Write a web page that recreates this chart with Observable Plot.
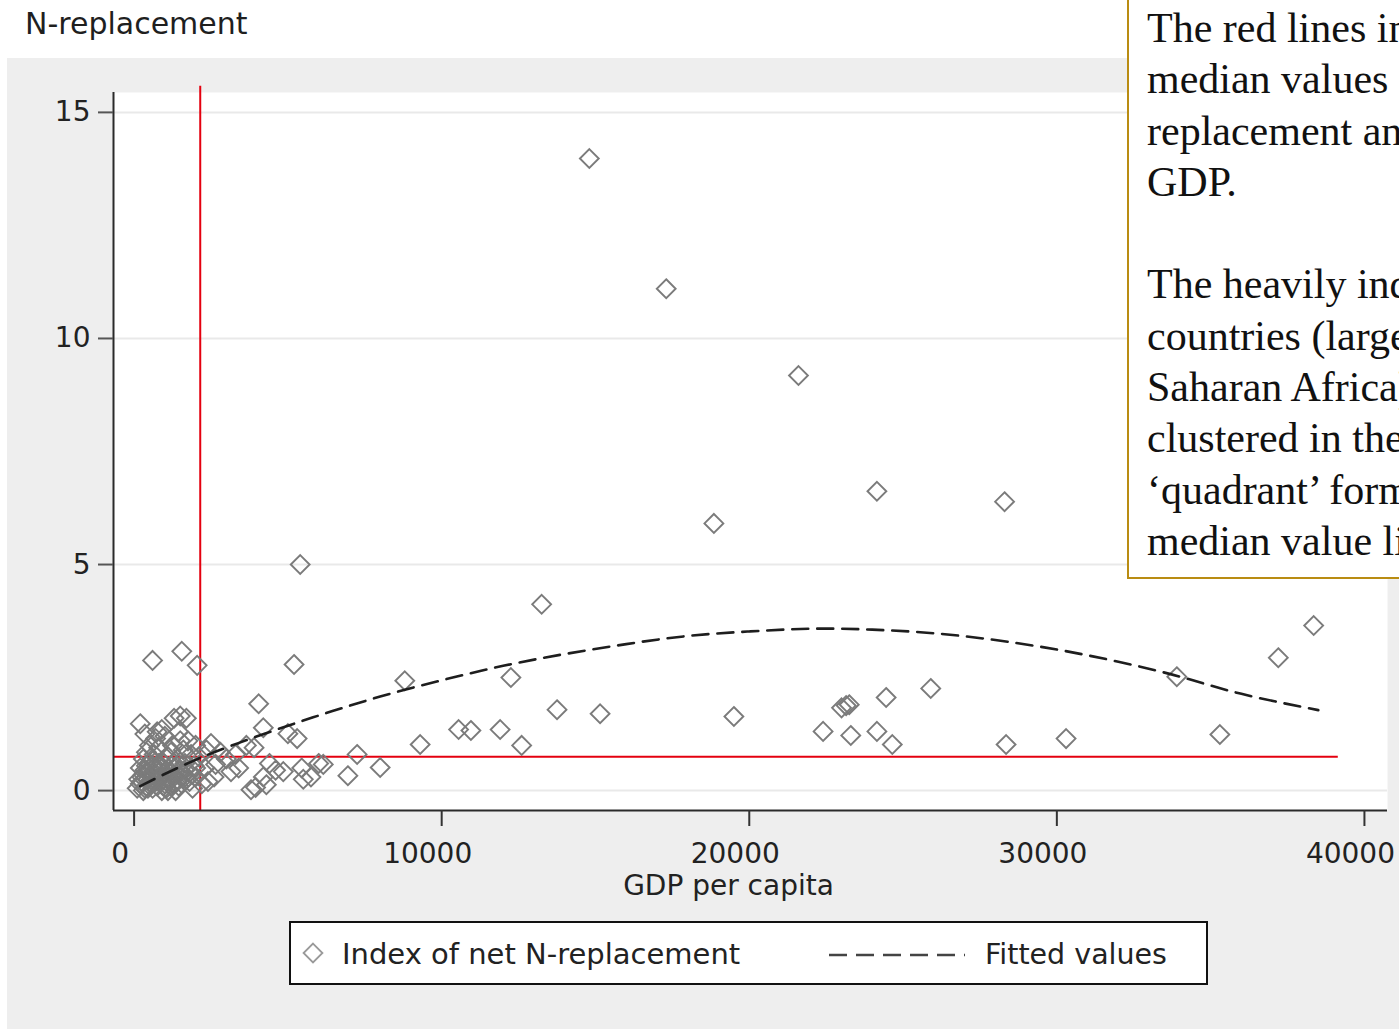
<!DOCTYPE html>
<html>
<head>
<meta charset="utf-8">
<script src="https://cdn.jsdelivr.net/npm/d3@7"></script>
<script src="https://cdn.jsdelivr.net/npm/@observablehq/plot@0.6"></script>
<style>
  html, body { margin: 0; padding: 0; background: #ffffff; }
  #wrap { position: relative; width: 1399px; height: 1029px; overflow: hidden; background: #ffffff; }
  #title { position: absolute; left: 25px; top: 7px; font: 30px "DejaVu Sans", sans-serif; color: #1f1f1f; line-height: 34px; white-space: nowrap; }
  #panel { position: absolute; left: 7px; top: 58px; width: 1392px; height: 971px; background: #eeeeee; }
  #chart { position: absolute; left: 0; top: 58px; }
  #legend { position: absolute; left: 289px; top: 921px; }
  #note { position: absolute; left: 1127px; top: -3px; width: 420px; height: 574px; box-sizing: content-box;
          border: 2px solid #b98c12; background: #ffffff; padding: 4px 0 0 18px;
          font: 42px "Liberation Serif", "Times New Roman", serif; line-height: 51.3px; color: #111; white-space: nowrap; }
</style>
</head>
<body>
<div id="wrap">
  <div id="title">N-replacement</div>
  <div id="panel"></div>
  <div id="chart"></div>
  <div id="legend"></div>
  <div id="note"></div>
</div>
<script>
// ---- data ----
const gdp = [
  14800, 17300, 21600, 24150, 28300, 18850, 5400, 13250, 38350, 37200,
  33900, 25900, 24450, 23150, 23000, 23250, 19500, 13750, 15150, 12250,
  8800, 10550, 10950, 11900, 12600, 9300, 22400, 23300, 24150, 24650,
  28350, 30300, 35300, 7250, 6950, 8000, 6000, 6150, 5200, 2050,
  1550, 600, 4050, 4200, 5000, 5300, 5450, 4850, 4200, 3950,
  3400, 3150, 2650, 2500, 2000, 3650, 3800, 4300, 5500, 5750,
  3000, 2800, 3300, 3900, 4400, 4600, 1700, 1500, 1300, 200,
  100, 200, 250, 300, 350, 400, 450, 500, 550, 600,
  650, 700, 750, 800, 850, 900, 950, 1000, 1050, 1100,
  1150, 1200, 1250, 1300, 1350, 1400, 1450, 1500, 1550, 1600,
  1650, 1700, 1750, 1800, 1850, 1900, 1950, 2000, 2100, 2200,
  300, 500, 700, 400, 900, 1100, 600, 800, 200, 1000,
  1200, 350, 750, 1500, 2300, 2400, 2600, 2350, 150, 450,
  250, 350, 450, 550, 650, 750, 850, 950, 1050, 1150,
  1250, 1350, 1450, 1550, 1650, 300, 400, 500, 600, 700,
  800, 900, 1000, 1100, 1200, 1300, 1400, 1600, 1800, 2000
];
const nrep = [
  13.98, 11.1, 9.18, 6.62, 6.39, 5.91, 5.0, 4.12, 3.65, 2.94,
  2.52, 2.26, 2.06, 1.88, 1.83, 1.9, 1.64, 1.79, 1.70, 2.5,
  2.43, 1.35, 1.33, 1.35, 1.0, 1.02, 1.31, 1.22, 1.31, 1.02,
  1.02, 1.15, 1.24, 0.8, 0.33, 0.51, 0.6, 0.58, 2.79, 2.77,
  3.08, 2.88, 1.92, 1.39, 1.26, 1.15, 0.5, 0.42, 0.3, 0.07,
  0.5, 0.42, 0.58, 1.04, 1.0, 1.0, 0.02, 0.13, 0.25, 0.3,
  0.7, 0.85, 0.8, 0.95, 0.6, 0.45, 1.6, 1.65, 1.6, 1.48,
  0.05, 0.15, 0.3, 0.0, 0.45, 0.1, 0.25, 0.6, 0.35, 0.05,
  0.8, 0.2, 0.5, 0.95, 0.3, 0.65, 0.1, 1.2, 0.45, 0.75,
  0.2, 0.55, 1.0, 0.35, 0.0, 0.7, 1.3, 0.45, 0.15, 0.9,
  0.6, 0.25, 1.1, 0.4, 0.8, 0.05, 0.55, 0.3, 0.75, 0.15,
  0.7, 1.0, 1.15, 0.85, 1.35, 0.0, 0.55, 0.3, 0.5, 0.15,
  0.85, 1.25, 1.3, 1.1, 0.5, 0.2, 0.3, 0.9, 0.25, 0.05,
  0.2, 0.05, 0.4, 0.15, 0.35, 0.1, 0.55, 0.25, 0.05, 0.4,
  0.15, 0.5, 0.1, 0.3, 0.45, 0.35, 0.55, 0.2, 0.7, 0.45,
  0.6, 0.0, 0.4, 0.3, 0.1, 0.6, 0.2, 0.35, 0.2, 0.5
];
const fitGdp = [200, 2000, 4000, 6000, 8000, 10000, 12000, 14000, 16000, 18000,
                20000, 22000, 24000, 26000, 28000, 30000, 32000, 34000, 36000, 38500];
const fitVal = [0.1, 0.68, 1.2, 1.66, 2.08, 2.44, 2.76, 3.02, 3.24, 3.42,
                3.52, 3.58, 3.56, 3.48, 3.33, 3.12, 2.85, 2.52, 2.14, 1.78];
const medianGdp = 2150;
const medianN = 0.75;
const medianNSpan = [-670, 39150];     // extent of the horizontal median line (GDP)
const medianGdpSpan = [-0.44, 15.58];  // extent of the vertical median line (index)
const xTicks = [0, 10000, 20000, 30000, 40000];
const yTicks = [0, 5, 10, 15];
const xDomain = [-670, 40750];
const yDomain = [-0.44, 15.44];
const xLabel = "GDP per capita";
const legendLabels = ["Index of net N-replacement", "Fitted values"];
const noteLines = [
  "The red lines indicate the",
  "median values for N-",
  "replacement and per capita",
  "GDP.",
  "",
  "The heavily indebted poor",
  "countries (largely in Sub-",
  "Saharan Africa) are",
  "clustered in the lower left",
  "\u2018quadrant\u2019 formed by the",
  "median value lines."
];

// ---- build tables ----
const points = gdp.map((g, i) => ({gdp: g, n: nrep[i]}));
const fitted = fitGdp.map((g, i) => ({gdp: g, n: fitVal[i]}));

const plot = Plot.plot({
  width: 1399,
  height: 860,
  marginLeft: 113,
  marginRight: 12,
  marginTop: 34,
  marginBottom: 108,
  style: {background: "transparent", fontFamily: "DejaVu Sans", color: "#222", overflow: "visible"},
  x: {domain: xDomain},
  y: {domain: yDomain},
  marks: [
    Plot.frame({fill: "#ffffff", stroke: null}),
    Plot.gridY(yTicks, {stroke: "#e9e9e9", strokeOpacity: 1, strokeWidth: 2}),
    Plot.ruleY([medianN], {x1: medianNSpan[0], x2: medianNSpan[1], stroke: "#e4000f", strokeWidth: 2}),
    Plot.ruleX([medianGdp], {y1: medianGdpSpan[0], y2: medianGdpSpan[1], stroke: "#e4000f", strokeWidth: 2, clip: false}),
    Plot.dot(points, {x: "gdp", y: "n", symbol: "diamond2", r: 8.5, stroke: "#7b7b7b", strokeWidth: 1.9, fill: "none"}),
    Plot.line(fitted, {x: "gdp", y: "n", curve: "natural", stroke: "#1e1e1e", strokeWidth: 2.6, strokeDasharray: "16,9"}),
    Plot.ruleX([xDomain[0]], {y1: yDomain[0], y2: yDomain[1], stroke: "#2a2a2a", strokeWidth: 2}),
    Plot.ruleY([yDomain[0]], {x1: xDomain[0], x2: xDomain[1], stroke: "#2a2a2a", strokeWidth: 2}),
    Plot.axisY({ticks: yTicks, tickSize: 15, tickPadding: 8, fontSize: 28, label: null, stroke: "#555", strokeWidth: 2}),
    Plot.axisX({ticks: xTicks, tickSize: 16, tickFormat: () => "", label: null, stroke: "#333", strokeWidth: 2}),
    Plot.axisX({ticks: xTicks, tickSize: 0, tickPadding: 33, dx: -14, fontSize: 28, tickFormat: "d", label: null}),
    Plot.text([xLabel], {frameAnchor: "bottom", dx: -22, dy: 84, fontSize: 28, fill: "#222"})
  ]
});
document.getElementById("chart").appendChild(plot);

// ---- legend ----
const lg = d3.select("#legend").append("svg")
  .attr("width", 920).attr("height", 66)
  .style("font-family", "DejaVu Sans");
lg.append("rect").attr("x", 1).attr("y", 1).attr("width", 917).attr("height", 62)
  .attr("fill", "#ffffff").attr("stroke", "#111").attr("stroke-width", 2);
lg.append("path").attr("d", d3.symbol(d3.symbolDiamond2, 8.5 * 8.5 * Math.PI)())
  .attr("transform", "translate(24,32)")
  .attr("fill", "none").attr("stroke", "#999").attr("stroke-width", 1.8);
lg.append("text").attr("x", 53).attr("y", 33).attr("dy", "0.35em")
  .attr("font-size", 29).attr("fill", "#222").text(legendLabels[0]);
lg.append("line").attr("x1", 540).attr("x2", 676).attr("y1", 34).attr("y2", 34)
  .attr("stroke", "#444").attr("stroke-width", 2.6).attr("stroke-dasharray", "18,9");
lg.append("text").attr("x", 696).attr("y", 33).attr("dy", "0.35em")
  .attr("font-size", 28.5).attr("fill", "#222").text(legendLabels[1]);

// ---- annotation box ----
const note = document.getElementById("note");
noteLines.forEach(l => {
  const d = document.createElement("div");
  d.textContent = l === "" ? "\u00a0" : l;
  note.appendChild(d);
});
</script>
</body>
</html>
